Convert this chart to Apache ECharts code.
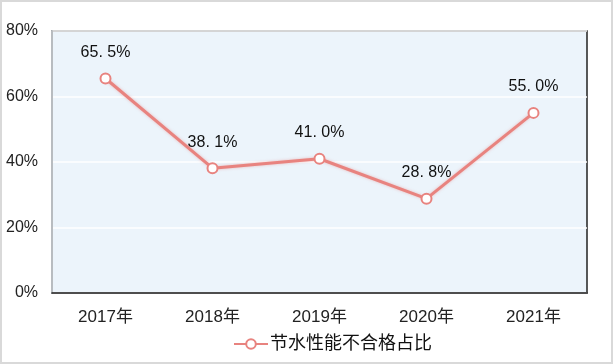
<!DOCTYPE html>
<html><head><meta charset="utf-8">
<script src="https://cdn.jsdelivr.net/npm/echarts@6/dist/echarts.min.js"></script>
<style>html,body{margin:0;padding:0;background:#fff}#c{width:613px;height:364px}</style>
</head><body><div id="c"></div>
<script>
const categories = ['2017年','2018年','2019年','2020年','2021年'];
const values = [65.5, 38.1, 41.0, 28.8, 55.0];
const valueLabels = ['65. 5%','38. 1%','41. 0%','28. 8%','55. 0%'];
const yTicks = [0, 20, 40, 60, 80];
const seriesName = '节水性能不合格占比';
const font = '"Liberation Sans", "Noto Sans CJK SC", sans-serif';
const chart = echarts.init(document.getElementById('c'));
chart.setOption({
  backgroundColor: '#fff',
  animation: false,
  graphic: [{type:'rect', shape:{x:1,y:1,width:611,height:362}, style:{fill:'none', stroke:'#d9d9d9', lineWidth:2}}],
  grid: {left:52, right:26, top:31, bottom:71, show:true, backgroundColor:'#ecf4fb', borderColor:'#222', borderWidth:1.5},
  legend: {bottom:6, left:228, itemWidth:34, itemHeight:12, itemGap:10,
    data:[{name:seriesName}],
    textStyle:{fontSize:18, color:'#111', fontFamily:font, padding:[0,0,0,-3]}},
  xAxis: {type:'category', data:categories, boundaryGap:true,
    axisLine:{show:true, lineStyle:{color:'#222', width:1.5}}, axisTick:{show:false},
    axisLabel:{fontSize:17, color:'#222', margin:16, fontFamily:font}},
  yAxis: {type:'value', min:yTicks[0], max:yTicks[yTicks.length-1], interval:20,
    axisLine:{show:true, lineStyle:{color:'#b8bcc0', width:2}}, axisTick:{show:false},
    splitLine:{lineStyle:{color:'#ffffff', width:1.5}},
    axisLabel:{fontSize:16, color:'#222', margin:14, formatter:'{value}%', fontFamily:font}},
  series: [{name:seriesName, type:'line', data:values,
    lineStyle:{color:'#e8837f', width:3, shadowColor:'rgba(232,131,127,0.5)', shadowBlur:3},
    itemStyle:{color:'#e8837f', borderColor:'#e8837f', borderWidth:2},
    symbol:'emptyCircle', symbolSize:10,
    label:{show:true, position:'top', distance:12, fontSize:16, color:'#111', fontFamily:font,
      formatter: p => valueLabels[p.dataIndex]}}]
});
</script></body></html>
